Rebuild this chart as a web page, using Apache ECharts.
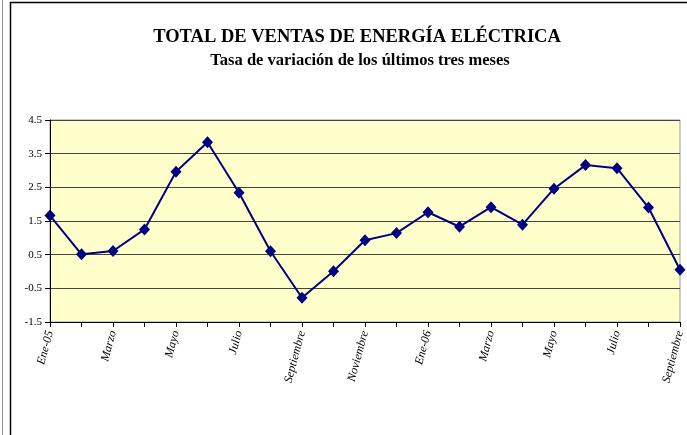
<!DOCTYPE html>
<html>
<head>
<meta charset="utf-8">
<title>Total de ventas de energía eléctrica</title>
<script src="https://cdn.jsdelivr.net/npm/echarts@6/dist/echarts.min.js"></script>
<style>
  html, body { margin: 0; padding: 0; background: #fff; }
  #chart { width: 687px; height: 435px; }
</style>
</head>
<body>
<div id="chart"></div>
<script>
// meses (solo se rotulan uno de cada dos)
const meses = ['Ene-05', 'Febrero', 'Marzo', 'Abril', 'Mayo', 'Junio', 'Julio', 'Agosto',
  'Septiembre', 'Octubre', 'Noviembre', 'Diciembre', 'Ene-06', 'Febrero', 'Marzo', 'Abril',
  'Mayo', 'Junio', 'Julio', 'Agosto', 'Septiembre']

// tasa de variación (%)
const tasa = [1.66, 0.51, 0.61, 1.25, 2.96, 3.84, 2.34, 0.60, -0.78, 0.01, 0.93,
  1.14, 1.76, 1.33, 1.91, 1.39, 2.46, 3.16, 3.07, 1.90, 0.05]

const ejeY = { min: -1.5, max: 4.5, paso: 1 }

const serif = "'Liberation Serif', 'Times New Roman', serif"

const chart = echarts.init(document.getElementById('chart'))

const option = {
  animation: false,
  backgroundColor: '#fff',
  title: [
    {
      text: 'TOTAL DE VENTAS DE ENERGÍA ELÉCTRICA',
      left: 352,
      top: 23,
      textAlign: 'center',
      textStyle: { fontFamily: serif, fontSize: 18.5, fontWeight: 'bold', color: '#000' }
    },
    {
      text: 'Tasa de variación de los últimos tres meses',
      left: 355,
      top: 47,
      textAlign: 'center',
      textStyle: { fontFamily: serif, fontSize: 16.5, fontWeight: 'bold', color: '#000' }
    }
  ],
  graphic: [
    {
      type: 'rect',
      shape: { x: 10.5, y: 2.5, width: 700, height: 460 },
      style: { fill: null, stroke: '#000', lineWidth: 1.5 },
      silent: true
    },
    {
      type: 'line',
      shape: { x1: 2.5, y1: 0, x2: 2.5, y2: 435 },
      style: { stroke: '#999', lineWidth: 1 },
      silent: true
    }
  ],
  grid: {
    left: 50,
    right: 7,
    top: 120,
    bottom: 113,
    show: true,
    backgroundColor: '#FFFFCC',
    borderColor: '#999',
    borderWidth: 1
  },
  xAxis: {
    type: 'category',
    data: meses,
    boundaryGap: false,
    axisLine: { onZero: false, lineStyle: { color: '#000', width: 1 } },
    axisTick: { show: true, interval: 0, length: 5, lineStyle: { color: '#000' } },
    axisLabel: {
      interval: 1,
      rotate: 75,
      margin: 9,
      fontFamily: serif,
      fontStyle: 'italic',
      fontSize: 12,
      color: '#000'
    },
    splitLine: { show: false }
  },
  yAxis: {
    type: 'value',
    min: ejeY.min,
    max: ejeY.max,
    interval: ejeY.paso,
    axisLine: { show: true, lineStyle: { color: '#000', width: 1 } },
    axisTick: { show: true, length: 5, lineStyle: { color: '#000' } },
    axisLabel: {
      margin: 8,
      fontFamily: serif,
      fontSize: 11,
      color: '#000',
      formatter: v => v.toFixed(1)
    },
    splitLine: { show: true, lineStyle: { color: '#444', width: 1 } }
  },
  series: [
    {
      name: 'Tasa de variación',
      type: 'line',
      data: tasa,
      symbol: 'diamond',
      symbolSize: [11, 12],
      lineStyle: { color: '#000080', width: 2 },
      itemStyle: { color: '#000080' }
    }
  ]
}

chart.setOption(option)
</script>
</body>
</html>
